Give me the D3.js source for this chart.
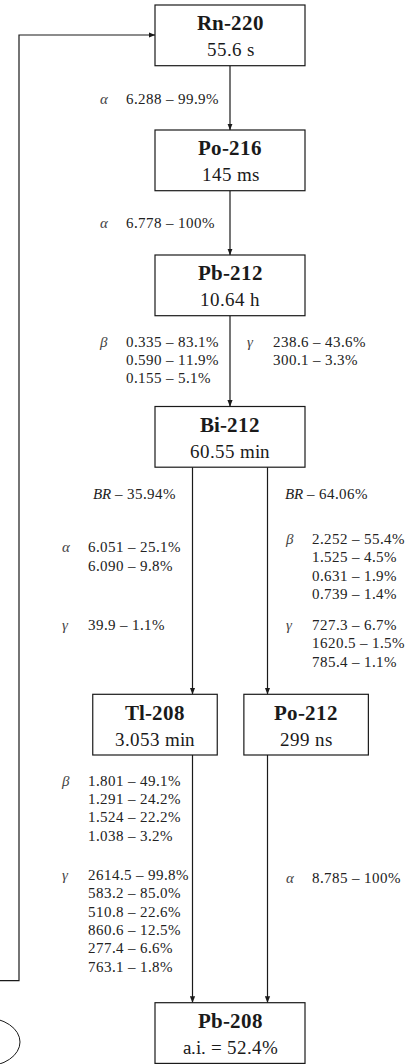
<!DOCTYPE html>
<html>
<head>
<meta charset="utf-8">
<script src="https://cdn.jsdelivr.net/npm/d3@7"></script>
<style>
  @font-face { font-family: "ChainSerif"; font-weight: 400; font-style: normal;
    src: local("Liberation Serif"), local("LiberationSerif"), local("Liberation Serif Regular"); }
  @font-face { font-family: "ChainSerif"; font-weight: 700; font-style: normal;
    src: local("Liberation Serif Bold"), local("LiberationSerif-Bold"); }
  @font-face { font-family: "ChainSerif"; font-weight: 400; font-style: italic;
    src: local("Liberation Serif Italic"), local("LiberationSerif-Italic"); }
  html, body { margin: 0; padding: 0; background: #fff; }
</style>
</head>
<body>
<script>
// Thorium-series tail: Rn-220 down to stable Pb-208

const nuclides  = ["Rn-220", "Po-216", "Pb-212", "Bi-212", "Tl-208", "Po-212", "Pb-208"];
const halfLives = ["55.6 s", "145 ms", "10.64 h", "60.55 min", "3.053 min", "299 ns", "a.i. = 52.4%"];

// emission lines: [energy (MeV for α/β, keV for γ), intensity %]
const rn220Alpha  = [["6.288", "99.9"]];
const po216Alpha  = [["6.778", "100"]];
const pb212Beta   = [["0.335", "83.1"], ["0.590", "11.9"], ["0.155", "5.1"]];
const pb212Gamma  = [["238.6", "43.6"], ["300.1", "3.3"]];
const bi212Ratio  = ["35.94", "64.06"];
const bi212Alpha  = [["6.051", "25.1"], ["6.090", "9.8"]];
const bi212GammaA = [["39.9", "1.1"]];
const bi212Beta   = [["2.252", "55.4"], ["1.525", "4.5"], ["0.631", "1.9"], ["0.739", "1.4"]];
const bi212GammaB = [["727.3", "6.7"], ["1620.5", "1.5"], ["785.4", "1.1"]];
const tl208Beta   = [["1.801", "49.1"], ["1.291", "24.2"], ["1.524", "22.2"], ["1.038", "3.2"]];
const tl208Gamma  = [["2614.5", "99.8"], ["583.2", "85.0"], ["510.8", "22.6"], ["860.6", "12.5"], ["277.4", "6.6"], ["763.1", "1.8"]];
const po212Alpha  = [["8.785", "100"]];

const W = 406, H = 1064;
const FONT = "ChainSerif, 'Liberation Serif', serif";
const svg = d3.select("body").append("svg")
  .attr("width", W).attr("height", H)
  .attr("font-family", FONT)
  .style("display", "block");

// horizontal grid: 4 columns span the main chain's box
const col = d3.scaleLinear().domain([0, 4]).range([155, 305]);
const boxH = 60.7;
const lineH = 18.3;
const ink = "#1a1a1a";

const layout = {
  "Rn-220": { cx: 2,    top: 5,     w: 4 },
  "Po-216": { cx: 2,    top: 130,   w: 4 },
  "Pb-212": { cx: 2,    top: 255,   w: 4 },
  "Bi-212": { cx: 2,    top: 406.5, w: 4 },
  "Tl-208": { cx: 0,    top: 694.3, w: 3.32 },
  "Po-212": { cx: 4.03, top: 694.3, w: 3.32 },
  "Pb-208": { cx: 2,    top: 1002.7, w: 4 }
};

const nodes = nuclides.map((id, i) => {
  const L = layout[id];
  const x0 = col(L.cx - L.w / 2), x1 = col(L.cx + L.w / 2);
  return { id, sub: halfLives[i], x0, x1, top: L.top, bottom: L.top + boxH };
});
const byId = new Map(nodes.map(n => [n.id, n]));

const edges = [
  { from: "Rn-220", to: "Po-216", c: 2 },
  { from: "Po-216", to: "Pb-212", c: 2 },
  { from: "Pb-212", to: "Bi-212", c: 2 },
  { from: "Bi-212", to: "Tl-208", c: 1 },
  { from: "Bi-212", to: "Po-212", c: 3 },
  { from: "Tl-208", to: "Pb-208", c: 1 },
  { from: "Po-212", to: "Pb-208", c: 3 }
];

// arrowhead
svg.append("defs").append("marker")
  .attr("id", "tip")
  .attr("markerUnits", "userSpaceOnUse")
  .attr("viewBox", "0 -3 7 6")
  .attr("refX", 6.5).attr("refY", 0)
  .attr("markerWidth", 7).attr("markerHeight", 6)
  .attr("orient", "auto")
  .append("path")
  .attr("d", "M0,-2.6 L6.8,0 L0,2.6 Z")
  .attr("fill", ink);

// decay arrows
svg.append("g").selectAll("line").data(edges).join("line")
  .attr("x1", d => col(d.c)).attr("x2", d => col(d.c))
  .attr("y1", d => byId.get(d.from).bottom)
  .attr("y2", d => byId.get(d.to).top)
  .attr("stroke", ink).attr("stroke-width", 1.2)
  .attr("marker-end", "url(#tip)");

// return path from the left into Rn-220
const loop = d3.path();
loop.moveTo(0, 980.7);
loop.lineTo(19, 980.7);
loop.lineTo(19, 35);
loop.lineTo(byId.get("Rn-220").x0, 35);
svg.append("path").attr("d", loop.toString())
  .attr("fill", "none").attr("stroke", ink).attr("stroke-width", 1.2)
  .attr("marker-end", "url(#tip)");

// partial ellipse at the bottom-left
svg.append("ellipse")
  .attr("cx", -16).attr("cy", 1042).attr("rx", 36).attr("ry", 24.5)
  .attr("fill", "none").attr("stroke", ink).attr("stroke-width", 1);

// nuclide boxes
const g = svg.append("g").selectAll("g").data(nodes).join("g");
g.append("rect")
  .attr("x", d => d.x0).attr("y", d => d.top)
  .attr("width", d => d.x1 - d.x0).attr("height", boxH)
  .attr("fill", "#fff").attr("stroke", ink).attr("stroke-width", 1.2);
g.append("text")
  .attr("x", d => (d.x0 + d.x1) / 2).attr("y", d => d.top + 25.4)
  .attr("text-anchor", "middle")
  .attr("font-family", FONT).attr("font-weight", "bold").attr("font-size", 20.5)
  .attr("fill", ink)
  .text(d => d.id);
g.append("text")
  .attr("x", d => (d.x0 + d.x1) / 2).attr("y", d => d.top + 51.2)
  .attr("text-anchor", "middle")
  .attr("font-family", FONT).attr("font-size", 18.5)
  .attr("fill", ink)
  .text(d => d.sub);

// emission blocks: symbol + "energy – intensity%" rows
const blocks = [
  { sym: "α", rows: rn220Alpha,  x: 126,   y: 104 },
  { sym: "α", rows: po216Alpha,  x: 126,   y: 228.3 },
  { sym: "β", rows: pb212Beta,   x: 126,   y: 346.7 },
  { sym: "γ", rows: pb212Gamma,  x: 273.3, y: 346.7 },
  { sym: "α", rows: bi212Alpha,  x: 88.3,  y: 552.3 },
  { sym: "γ", rows: bi212GammaA, x: 88.3,  y: 630 },
  { sym: "β", rows: bi212Beta,   x: 311.7, y: 544 },
  { sym: "γ", rows: bi212GammaB, x: 311.7, y: 630 },
  { sym: "β", rows: tl208Beta,   x: 88.3,  y: 785.7 },
  { sym: "γ", rows: tl208Gamma,  x: 88.3,  y: 880 },
  { sym: "α", rows: po212Alpha,  x: 311.7, y: 883.3 }
];

const bg = svg.append("g").selectAll("g").data(blocks).join("g");
bg.append("text")
  .attr("x", d => d.x - 26).attr("y", d => d.y)
  .attr("font-family", FONT).attr("font-style", "italic").attr("font-size", 14.5)
  .attr("fill", "#444")
  .text(d => d.sym);
bg.selectAll("text.row").data(d => d.rows.map((r, i) => ({ r, i, x: d.x, y: d.y })))
  .join("text").attr("class", "row")
  .attr("x", d => d.x).attr("y", d => d.y + d.i * lineH)
  .attr("font-family", FONT).attr("font-size", 14.5)
  .attr("fill", "#222")
  .text(d => `${d.r[0]} \u2013 ${d.r[1]}%`);

// branching ratios of Bi-212
const br = [
  { v: bi212Ratio[0], x: 93.3, y: 499 },
  { v: bi212Ratio[1], x: 285,  y: 499 }
];
const bt = svg.append("g").selectAll("text").data(br).join("text")
  .attr("x", d => d.x).attr("y", d => d.y)
  .attr("font-family", FONT).attr("font-size", 14.5)
  .attr("fill", "#222");
bt.append("tspan").attr("font-style", "italic").text("BR");
bt.append("tspan").text(d => ` \u2013 ${d.v}%`);
</script>
</body>
</html>
